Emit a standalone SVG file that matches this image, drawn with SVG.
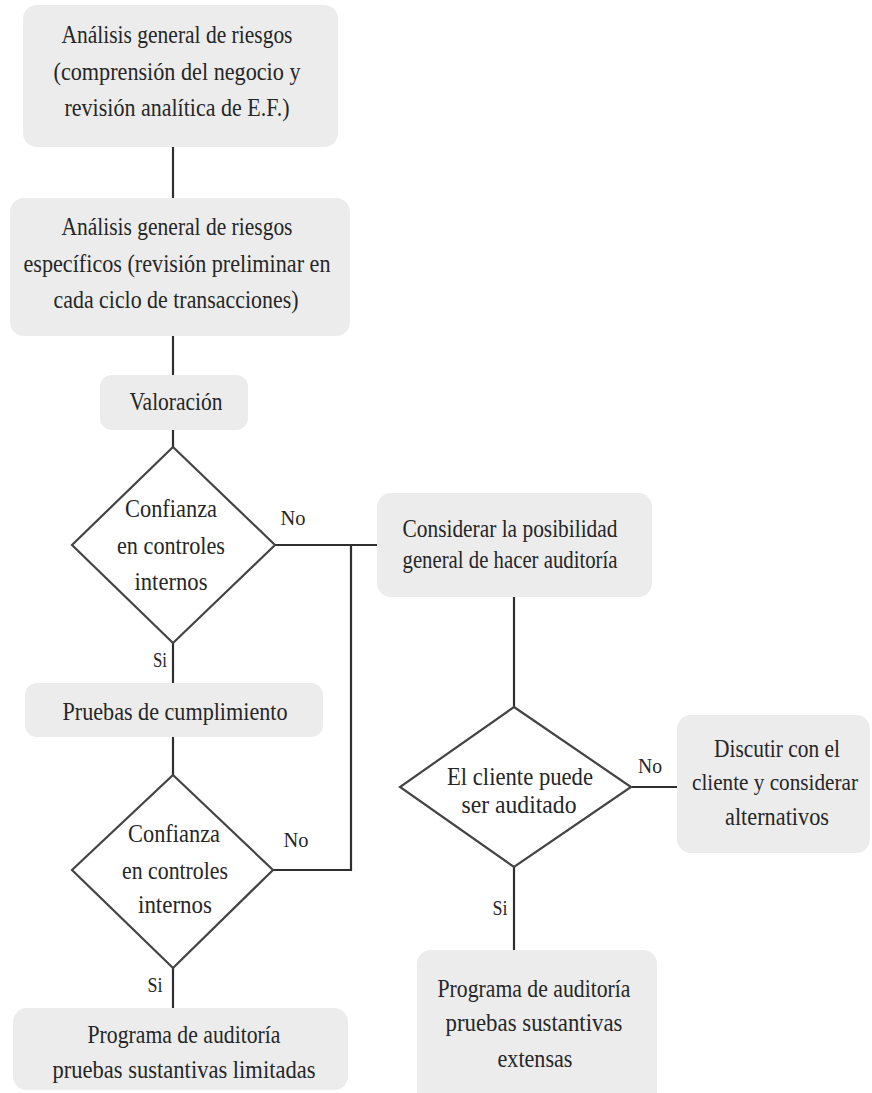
<svg xmlns="http://www.w3.org/2000/svg" width="872" height="1093" viewBox="0 0 872 1093">
  <style>
    .box { fill: #ececec; stroke: none; }
    .dia { fill: #ffffff; stroke: #444444; stroke-width: 2.2; }
    .wire { fill: none; stroke: #2f2f2f; stroke-width: 2.2; }
    text { font-family: "Liberation Serif", "Times New Roman", serif; font-size: 26px; fill: #262626; text-anchor: middle; }
    .lbl { font-size: 21px; }
    .tight { font-size: 23px; }
  </style>
  <rect width="872" height="1093" fill="#ffffff"/>

  <g id="connectors">
    <line class="wire" x1="173" y1="147" x2="173" y2="198"/>
    <line class="wire" x1="173" y1="336" x2="173" y2="375"/>
    <line class="wire" x1="173" y1="430" x2="173" y2="447"/>
    <line class="wire" x1="173" y1="643" x2="173" y2="683"/>
    <line class="wire" x1="173" y1="737" x2="173" y2="775"/>
    <line class="wire" x1="173" y1="968" x2="173" y2="1008"/>
    <polyline class="wire" points="275,545 377,545"/>
    <polyline class="wire" points="273,870 351,870 351,545"/>
    <line class="wire" x1="514" y1="597" x2="514" y2="707"/>
    <line class="wire" x1="631" y1="787" x2="677" y2="787"/>
    <line class="wire" x1="514" y1="867" x2="514" y2="950"/>
    <text class="lbl" x="293" y="525" textLength="25" lengthAdjust="spacingAndGlyphs">No</text>
    <text class="lbl" x="160" y="667" textLength="14" lengthAdjust="spacingAndGlyphs">Si</text>
    <text class="lbl" x="296" y="847" textLength="25" lengthAdjust="spacingAndGlyphs">No</text>
    <text class="lbl" x="155" y="992" textLength="15" lengthAdjust="spacingAndGlyphs">Si</text>
    <text class="lbl" x="650" y="773" textLength="24" lengthAdjust="spacingAndGlyphs">No</text>
    <text class="lbl" x="500" y="915" textLength="15" lengthAdjust="spacingAndGlyphs">Si</text>
  </g>

  <g id="analisis-general">
    <rect class="box" x="23" y="5" width="315" height="142" rx="14"/>
    <text x="177" y="43" textLength="231" lengthAdjust="spacingAndGlyphs">Análisis general de riesgos</text>
    <text x="177" y="80" textLength="247" lengthAdjust="spacingAndGlyphs">(comprensión del negocio y</text>
    <text x="177" y="116" textLength="225" lengthAdjust="spacingAndGlyphs">revisión analítica de E.F.)</text>
  </g>

  <g id="analisis-especificos">
    <rect class="box" x="10" y="198" width="340" height="138" rx="14"/>
    <text x="177" y="235" textLength="231" lengthAdjust="spacingAndGlyphs">Análisis general de riesgos</text>
    <text x="177" y="272" textLength="307" lengthAdjust="spacingAndGlyphs">específicos (revisión preliminar en</text>
    <text x="176" y="308" textLength="245" lengthAdjust="spacingAndGlyphs">cada ciclo de transacciones)</text>
  </g>

  <g id="valoracion">
    <rect class="box" x="100" y="375" width="148" height="55" rx="12"/>
    <text x="176" y="410" textLength="93" lengthAdjust="spacingAndGlyphs">Valoración</text>
  </g>

  <g id="confianza-1">
    <polygon class="dia" points="173,447 275,545 173,643 72,545"/>
    <text x="171" y="517" textLength="92" lengthAdjust="spacingAndGlyphs">Confianza</text>
    <text x="171" y="554" textLength="108" lengthAdjust="spacingAndGlyphs">en controles</text>
    <text x="171" y="590" textLength="73" lengthAdjust="spacingAndGlyphs">internos</text>
  </g>

  <g id="considerar">
    <rect class="box" x="377" y="493" width="275" height="104" rx="14"/>
    <text x="510" y="537" textLength="215" lengthAdjust="spacingAndGlyphs">Considerar la posibilidad</text>
    <text x="510" y="568" textLength="215" lengthAdjust="spacingAndGlyphs">general de hacer auditoría</text>
  </g>

  <g id="pruebas-cumplimiento">
    <rect class="box" x="25" y="683" width="298" height="54" rx="12"/>
    <text x="175" y="720" textLength="225" lengthAdjust="spacingAndGlyphs">Pruebas de cumplimiento</text>
  </g>

  <g id="confianza-2">
    <polygon class="dia" points="173,775 273,870 173,968 72,870"/>
    <text x="174" y="842" textLength="92" lengthAdjust="spacingAndGlyphs">Confianza</text>
    <text x="175" y="879" textLength="106" lengthAdjust="spacingAndGlyphs">en controles</text>
    <text x="175" y="913" textLength="74" lengthAdjust="spacingAndGlyphs">internos</text>
  </g>

  <g id="cliente-auditado">
    <polygon class="dia" points="514,707 631,787 514,867 400,787"/>
    <text x="520" y="785" textLength="146" lengthAdjust="spacingAndGlyphs">El cliente puede</text>
    <text x="519" y="813" textLength="115" lengthAdjust="spacingAndGlyphs">ser auditado</text>
  </g>

  <g id="discutir">
    <rect class="box" x="677" y="715" width="193" height="138" rx="14"/>
    <text x="777" y="757" textLength="126" lengthAdjust="spacingAndGlyphs">Discutir con el</text>
    <text class="tight" x="775" y="790" textLength="166" lengthAdjust="spacingAndGlyphs">cliente y considerar</text>
    <text x="777" y="825" textLength="104" lengthAdjust="spacingAndGlyphs">alternativos</text>
  </g>

  <g id="programa-limitadas">
    <rect class="box" x="13" y="1008" width="335" height="82" rx="14"/>
    <text x="184" y="1043" textLength="193" lengthAdjust="spacingAndGlyphs">Programa de auditoría</text>
    <text x="184" y="1078" textLength="263" lengthAdjust="spacingAndGlyphs">pruebas sustantivas  limitadas</text>
  </g>

  <g id="programa-extensas">
    <rect class="box" x="417" y="950" width="240" height="160" rx="14"/>
    <text x="534" y="997" textLength="193" lengthAdjust="spacingAndGlyphs">Programa de auditoría</text>
    <text x="534" y="1031" textLength="177" lengthAdjust="spacingAndGlyphs">pruebas  sustantivas</text>
    <text x="535" y="1067" textLength="75" lengthAdjust="spacingAndGlyphs">extensas</text>
  </g>
</svg>
